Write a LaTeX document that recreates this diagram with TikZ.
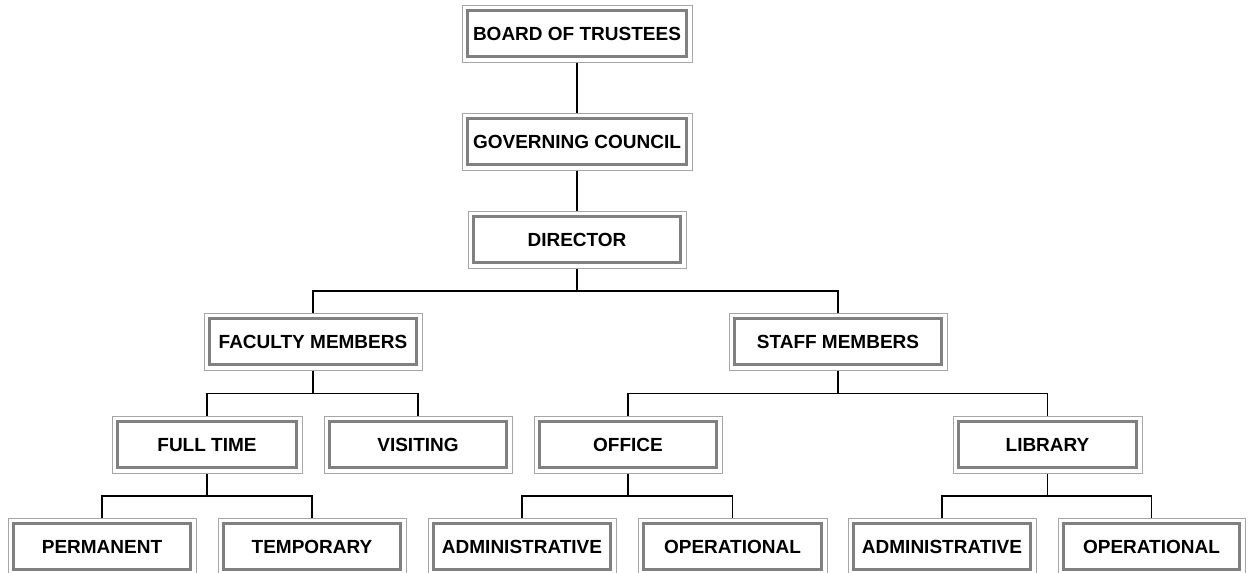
\documentclass[tikz,border=0pt]{standalone}
\usepackage{fontspec}
\setmainfont{Liberation Sans}
\definecolor{outergray}{HTML}{A6A6A6}
\definecolor{innergray}{HTML}{808080}
\begin{document}
\begin{tikzpicture}[x=1pt,y=-1pt,
  orgbox/.style={draw=outergray, line width=1pt, fill=white, minimum width=#1, minimum height=57pt,
    inner sep=0pt, text height=13.7pt, text depth=0pt,
    font=\fontsize{19}{21}\selectfont\bfseries, text=black,
    path picture={\draw[innergray, line width=3.5pt]
      ([shift={(5.5pt,5.5pt)}]path picture bounding box.south west) rectangle
      ([shift={(-5.5pt,-5.5pt)}]path picture bounding box.north east);}},
  orgbox/.default=188pt,
  link/.style={draw=black, line width=1.3pt}]
\path[use as bounding box, clip] (0,0) rectangle (1251,573);
\node[orgbox=230pt] (board) at (577,33.5) {BOARD OF TRUSTEES};
\node[orgbox=230pt] (gov) at (577,141.5) {GOVERNING COUNCIL};
\node[orgbox=218pt] (dir) at (577,239.5) {DIRECTOR};
\node[orgbox=218pt] (fac) at (313,341.5) {FACULTY MEMBERS};
\node[orgbox=218pt] (staff) at (838,341.5) {STAFF MEMBERS};
\node[orgbox=190pt] (full) at (207,444.5) {FULL TIME};
\node[orgbox] (visit) at (418,444.5) {VISITING};
\node[orgbox] (office) at (628,444.5) {OFFICE};
\node[orgbox=189pt] (lib) at (1047.5,444.5) {LIBRARY};
\node[orgbox] (perm) at (102,546.5) {PERMANENT};
\node[orgbox] (temp) at (312,546.5) {TEMPORARY};
\node[orgbox] (adm1) at (522,546.5) {ADMINISTRATIVE};
\node[orgbox=189pt] (op1) at (732.5,546.5) {OPERATIONAL};
\node[orgbox] (adm2) at (942,546.5) {ADMINISTRATIVE};
\node[orgbox=187pt] (op2) at (1151.5,546.5) {OPERATIONAL};
\draw[link] (board.south) -- (gov.north);
\draw[link] (gov.south) -- (dir.north);
\draw[link] (dir.south) -- ++(0,22.5) coordinate (b1);
\draw[link] (b1) -| (fac.north);
\draw[link] (b1) -| (staff.north);
\draw[link] (fac.south) -- ++(0,23) coordinate (b2);
\draw[link] (b2) -| (full.north);
\draw[link] (b2) -| (visit.north);
\draw[link] (staff.south) -- ++(0,23) coordinate (b3);
\draw[link] (b3) -| (office.north);
\draw[link] (b3) -| (lib.north);
\draw[link] (full.south) -- ++(0,22.5) coordinate (b4);
\draw[link] (b4) -| (perm.north);
\draw[link] (b4) -| (temp.north);
\draw[link] (office.south) -- ++(0,22.5) coordinate (b5);
\draw[link] (b5) -| (adm1.north);
\draw[link] (b5) -| (op1.north);
\draw[link] (lib.south) -- ++(0,22.5) coordinate (b6);
\draw[link] (b6) -| (adm2.north);
\draw[link] (b6) -| (op2.north);
\end{tikzpicture}
\end{document}
